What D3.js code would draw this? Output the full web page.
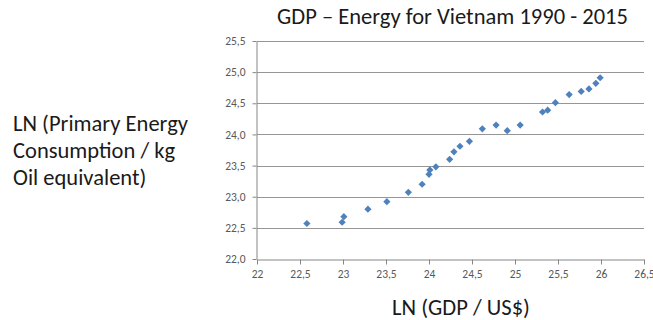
<!DOCTYPE html>
<html>
<head>
<meta charset="utf-8">
<script src="https://cdn.jsdelivr.net/npm/d3@7"></script>
<style>
  html, body { margin: 0; padding: 0; background: #fff; }
  svg { display: block; }
  text { font-family: Carlito, Calibri, Lato, "Open Sans", sans-serif; }
</style>
</head>
<body>
<svg id="chart" width="653" height="320"></svg>
<script>
// Natural log of GDP (US$) per year, 1990-2015
const lnGdp = [22.58, 22.99, 23.01, 23.29, 23.51, 23.76, 23.92, 24.00, 24.01, 24.08,
               24.24, 24.29, 24.36, 24.47, 24.62, 24.78, 24.91, 25.06, 25.32, 25.38,
               25.47, 25.63, 25.77, 25.86, 25.94, 25.99];
// Natural log of primary energy consumption (kg oil equivalent)
const lnEnergy = [22.57, 22.59, 22.68, 22.80, 22.92, 23.07, 23.20, 23.36, 23.43, 23.48,
                  23.60, 23.72, 23.81, 23.89, 24.09, 24.15, 24.06, 24.15, 24.36, 24.39,
                  24.51, 24.64, 24.69, 24.73, 24.82, 24.91];

const xTicks = [22, 22.5, 23, 23.5, 24, 24.5, 25, 25.5, 26, 26.5];
const yTicks = [22.0, 22.5, 23.0, 23.5, 24.0, 24.5, 25.0, 25.5];

const titleText = "GDP \u2013 Energy for Vietnam 1990 - 2015";
const yLabelLines = ["LN (Primary Energy", "Consumption / kg", "Oil equivalent)"];
const xLabelText = "LN (GDP / US$)";

const svg = d3.select("#chart");
const plot = { left: 257, right: 644, top: 41, bottom: 259 };

const x = d3.scaleLinear().domain([22, 26.5]).range([plot.left, plot.right]);
const y = d3.scaleLinear().domain([22, 25.5]).range([plot.bottom, plot.top]);

const comma = v => String(v).replace(".", ",");
const xFmt = v => comma(d3.format("~g")(v));
const yFmt = v => comma(d3.format(".1f")(v));

const axisColor = "#868686";
const gridColor = "#969696";
const tickTextColor = "#595959";

// horizontal gridlines
svg.append("g")
  .selectAll("line")
  .data(yTicks.filter(v => v > 22))
  .join("line")
  .attr("x1", plot.left).attr("x2", plot.right)
  .attr("y1", d => Math.round(y(d)) + 0.5).attr("y2", d => Math.round(y(d)) + 0.5)
  .attr("stroke", gridColor).attr("stroke-width", 1);

// x axis
const gx = svg.append("g")
  .attr("transform", `translate(0,${plot.bottom + 0.5})`)
  .call(d3.axisBottom(x).tickValues(xTicks).tickFormat(xFmt).tickSizeOuter(0).tickSizeInner(5).tickPadding(5));
gx.select(".domain").attr("stroke", axisColor);
gx.selectAll(".tick line").attr("stroke", axisColor);
gx.selectAll(".tick text").attr("fill", tickTextColor).attr("font-size", 11.5);

// y axis
const gy = svg.append("g")
  .attr("transform", `translate(${plot.left - 0.5},0)`)
  .call(d3.axisLeft(y).tickValues(yTicks).tickFormat(yFmt).tickSizeOuter(0).tickSizeInner(4).tickPadding(7));
gy.select(".domain").attr("stroke", axisColor);
gy.selectAll(".tick line").attr("stroke", axisColor);
gy.selectAll(".tick text").attr("fill", tickTextColor).attr("font-size", 11.5);

// data markers: diamonds
const diamond = d3.symbol().type(d3.symbolSquare).size(26);
svg.append("g")
  .selectAll("path")
  .data(lnGdp.map((g, i) => [g, lnEnergy[i]]))
  .join("path")
  .attr("d", diamond)
  .attr("transform", d => `translate(${x(d[0])},${y(d[1])}) rotate(45)`)
  .attr("fill", "#4f81bd");

// fit text to a target width by scaling its font size
function fitWidth(sel, target) {
  const w = sel.node().getComputedTextLength();
  const fs = parseFloat(sel.attr("font-size"));
  sel.attr("font-size", fs * target / w);
}

// title
const title = svg.append("text")
  .attr("x", 452.5).attr("y", 24)
  .attr("text-anchor", "middle")
  .attr("font-size", 20)
  .attr("fill", "#1a1a1a")
  .text(titleText);
fitWidth(title, 351);

// y axis title (three lines, left aligned)
const yl = svg.append("text")
  .attr("font-size", 20)
  .attr("fill", "#1a1a1a");
yl.selectAll("tspan")
  .data(yLabelLines)
  .join("tspan")
  .attr("x", 13)
  .attr("y", (d, i) => 131 + i * 27)
  .text(d => d);
const firstLine = yl.select("tspan");
const w0 = firstLine.node().getComputedTextLength();
yl.attr("font-size", 20 * 175 / w0);

// x axis title
const xl = svg.append("text")
  .attr("x", 461).attr("y", 315)
  .attr("text-anchor", "middle")
  .attr("font-size", 20)
  .attr("fill", "#1a1a1a")
  .text(xLabelText);
fitWidth(xl, 138);
</script>
</body>
</html>
